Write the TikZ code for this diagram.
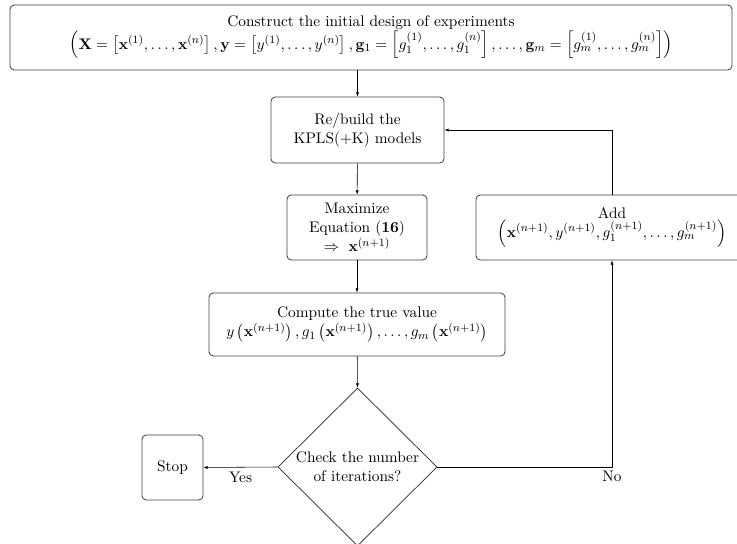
\documentclass[tikz,border=0pt,11pt]{standalone}
\usepackage{amsmath}
\usetikzlibrary{shapes.geometric,arrows.meta}
\begin{document}
\begin{tikzpicture}[x=0.7143pt,y=-0.7143pt,
  box/.style={draw=black!75,line width=0.6pt,rounded corners=3pt,align=center,inner sep=1pt},
  decide/.style={draw=black!85,line width=0.5pt,shape=diamond,aspect=1,inner sep=0pt,align=center,minimum width=113.6pt,minimum height=112.9pt},
  conn/.style={line width=0.4pt,-{Latex[length=3pt,width=2.2pt]}},
  lab/.style={inner sep=1pt}]
\useasboundingbox (0,0) rectangle (737,544);
\node[box,minimum width=515.7pt,minimum height=46.4pt] (init) at (371,37.5)
  {Construct the initial design of experiments\\
  $\left(\mathbf{X}=\left[\mathbf{x}^{(1)},\ldots,\mathbf{x}^{(n)}\right],\mathbf{y}=\left[y^{(1)},\ldots,y^{(n)}\right],\mathbf{g}_1=\left[g_1^{(1)},\ldots,g_1^{(n)}\right],\ldots,\mathbf{g}_m=\left[g_m^{(1)},\ldots,g_m^{(n)}\right]\right)$};
\node[box,minimum width=123.6pt,minimum height=47.1pt] (build) at (357.5,130)
  {Re/build the\\KPLS(+K) models};
\node[box,minimum width=100pt,minimum height=46.4pt] (maxi) at (357,227.5)
  {Maximize\\Equation (\textbf{16})\\$\Rightarrow\ \mathbf{x}^{(n+1)}$};
\node[box,minimum width=211.4pt,minimum height=45pt] (comp) at (357,324.5)
  {Compute the true value\\
  $y\left(\mathbf{x}^{(n+1)}\right),g_1\left(\mathbf{x}^{(n+1)}\right),\ldots,g_m\left(\mathbf{x}^{(n+1)}\right)$};
\node[decide] (chk) at (357.5,467) {Check the number\\of iterations?};
\node[box,minimum width=43.6pt,minimum height=46.4pt] (stop) at (172.5,467.5) {Stop};
\node[box,minimum width=194.3pt,minimum height=46.4pt] (add) at (612,227.5)
  {Add\\$\left(\mathbf{x}^{(n+1)},y^{(n+1)},g_1^{(n+1)},\ldots,g_m^{(n+1)}\right)$};
\coordinate (addturn) at (612,130);
\coordinate (noturn) at (612,467);
\draw[conn] (init.south -| build.north) -- (build.north);
\draw[conn] (build) -- (maxi);
\draw[conn] (maxi) -- (comp);
\draw[conn] (comp) -- (chk.north);
\draw[conn] (chk.west) -- node[lab,below,pos=0.5,yshift=-2pt] {Yes} (stop.east);
\draw[conn] (chk.east) -- (noturn) node[lab,below,pos=1,yshift=-2pt] {No} -- (add.south);
\draw[conn] (add.north) -- (addturn) -- (build.east);
\end{tikzpicture}
\end{document}
